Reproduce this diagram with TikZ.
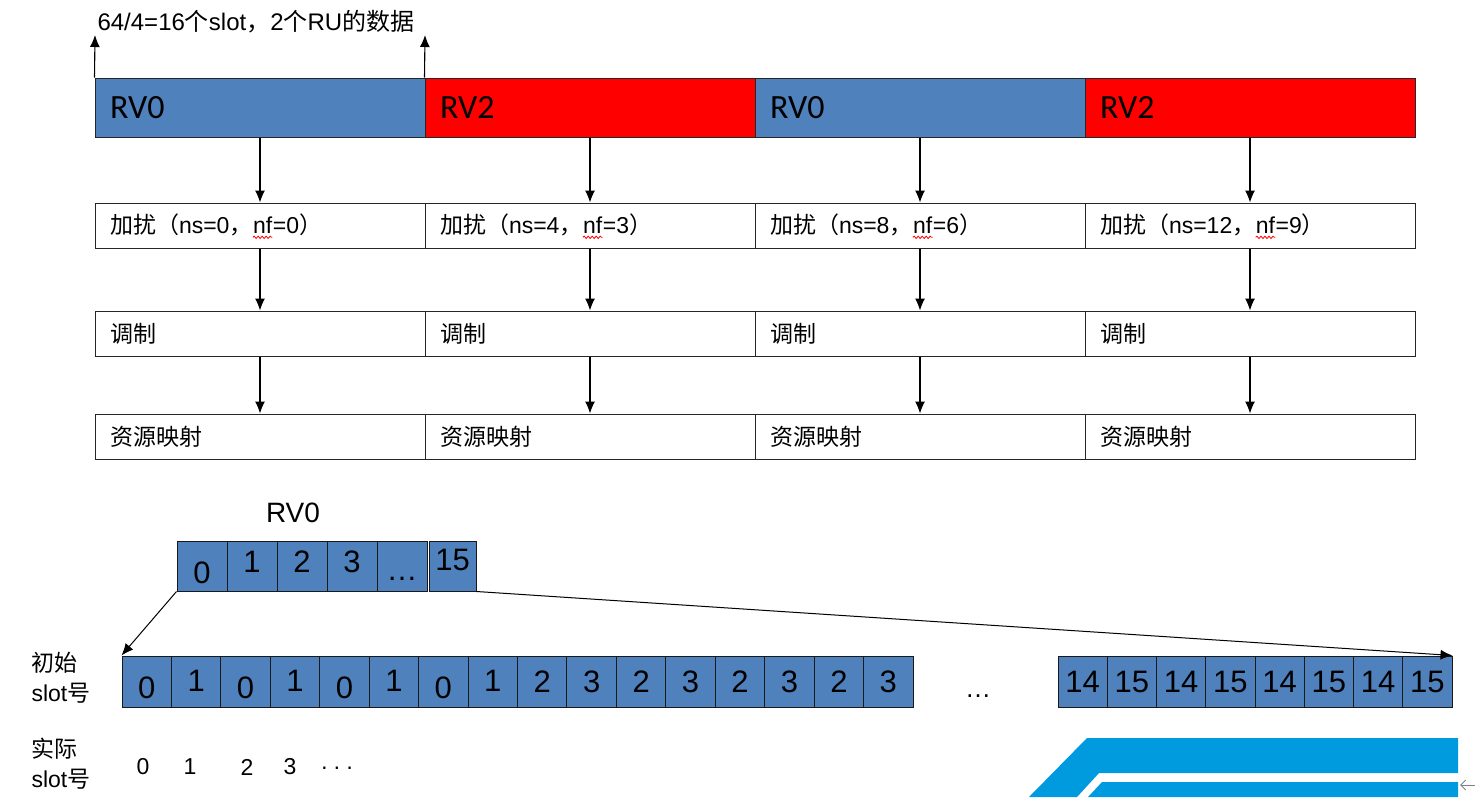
\documentclass[tikz,border=0pt]{standalone}
\usepackage{fontspec}
\setmainfont{Liberation Sans}
\newfontfamily\zh{Noto Sans CJK SC}
\newfontfamily\calib{Carlito}
\usetikzlibrary{arrows.meta,positioning,decorations.pathmorphing}
\definecolor{rvblue}{HTML}{4F81BD}
\definecolor{rvred}{HTML}{FF0000}
\definecolor{logo}{HTML}{009ADF}
\newcommand\spellwave[1]{\tikz[baseline=(w.base)]{\node[inner sep=0pt] (w) {#1};
  \draw[red,line width=0.8pt,decorate,decoration={snake,amplitude=1.2pt,segment length=4pt}] ([yshift=-3.5pt]w.base west) -- ([yshift=-3.5pt]w.base east);}}

\begin{document}
\begin{tikzpicture}[x=1pt,y=-1pt,
font=\fontsize{23}{27}\selectfont,
box/.style={draw=black!85,line width=1pt,minimum height=45pt,text width=300pt,inner xsep=15pt,inner ysep=0pt,align=left},
rv/.style={box,minimum height=59pt,font=\fontsize{34}{40}\selectfont\calib},
cell/.style={draw=black!90,line width=1pt,fill=rvblue,minimum width=49.4pt,minimum height=51pt,inner sep=0pt},
num/.style={font=\fontsize{31}{35}\selectfont},
arr/.style={-{Latex[length=12pt,width=10pt]},line width=1.1pt,draw=black}]
\useasboundingbox (0,0) rectangle (1475,809);
% processing chain, one column per redundancy version
\node[anchor=base west,font=\fontsize{24}{28}\selectfont] (note) at (94,30) {64/4=16{\zh 个}slot{\zh ，}2{\zh 个}RU{\zh 的数据}};
\node[rv,fill=rvblue] (v1) at (260,107.5) {RV0};
\node[rv,fill=rvred] (v2) at (590,107.5) {RV2};
\node[rv,fill=rvblue] (v3) at (920,107.5) {RV0};
\node[rv,fill=rvred] (v4) at (1250,107.5) {RV2};
\coordinate (t1) at (95,35); \coordinate (t2) at (425,35);
\draw[arr] (v1.north west) -- (t1); \draw[arr] (v2.north west) -- (t2);
\node[box] (s1) at (260,225.5) {{\zh 加扰（}ns=0{\zh ，}\spellwave{nf}=0{\zh ）}};
\node[box] (s2) at (590,225.5) {{\zh 加扰（}ns=4{\zh ，}\spellwave{nf}=3{\zh ）}};
\node[box] (s3) at (920,225.5) {{\zh 加扰（}ns=8{\zh ，}\spellwave{nf}=6{\zh ）}};
\node[box] (s4) at (1250,225.5) {{\zh 加扰（}ns=12{\zh ，}\spellwave{nf}=9{\zh ）}};
\foreach \i/\x in {1/260,2/590,3/920,4/1250}{
  \node[box,font=\fontsize{23}{27}\selectfont\zh] (m\i) at (\x,333.5) {调制};
  \node[box,font=\fontsize{23}{27}\selectfont\zh] (p\i) at (\x,436.5) {资源映射};
  \draw[arr] (v\i) -- (s\i); \draw[arr] (s\i) -- (m\i); \draw[arr] (m\i) -- (p\i);
}
% slot layout
\node[font=\fontsize{28}{32}\selectfont] (rvlab) at (293,513) {RV0};
\foreach \t/\x/\dy/\w [count=\i] in {0/202/-7/50,1/252/4/50,2/302/4/50,3/352/4/50,…/402/-13/50,15/452.5/6/47}
  \node[cell,minimum width=\w pt,minimum height=50pt,label={[num,yshift=\dy pt]center:\t}] (c\i) at (\x,566) {};
\foreach \t/\dy [count=\i] in {0/-6,1/1,0/-6,1/1,0/-6,1/1,0/-6,1/1,2/0,3/0,2/0,3/0,2/0,3/0,2/0,3/0}
  \node[cell,label={[num,yshift=\dy pt]center:\t}] (b\i) at ({122+49.44*(\i-0.5)},681.5) {};
\node[anchor=base,font=\fontsize{26}{30}\selectfont] (gap) at (978,697) {…};
\foreach \t [count=\i] in {14,15,14,15,14,15,14,15}
  \node[cell,minimum width=49.25pt,label={[num]center:\t}] (r\i) at ({1058+49.25*(\i-0.5)},681.5) {};
\draw[arr,line width=1pt] (c1.south west) -- (b1.north west);
\draw[arr,line width=1pt] (c6.south east) -- (r8.north east);
\node[anchor=west,align=left,font=\fontsize{23}{30}\selectfont] (init) at (28,678) {{\zh 初始}\\slot{\zh 号}};
\node[anchor=west,align=left,font=\fontsize{23}{30}\selectfont] (real) at (28,764) {{\zh 实际}\\slot{\zh 号}};
\node[font=\fontsize{23}{27}\selectfont] (n0) at (143,767) {0};
\node[font=\fontsize{23}{27}\selectfont] (n1) at (190,767) {1};
\node[font=\fontsize{23}{27}\selectfont] (n2) at (247,767) {2};
\node[font=\fontsize{23}{27}\selectfont] (n3) at (290,767) {3};
\node[font=\fontsize{23}{27}\selectfont] (n4) at (337,771) {·\hspace{5pt}·\hspace{5pt}·};
% corner band
\fill[logo] (1087,738) -- (1458,738) -- (1458,773) -- (1099,773) -- (1077,797) -- (1029,797) -- cycle;
\fill[logo] (1102,782) -- (1458,782) -- (1458,797) -- (1088,797) -- cycle;
\draw[gray,line width=1pt,-{Straight Barb[length=5pt,width=10pt]}] (1475,785) -- (1460,785);
\end{tikzpicture}
\end{document}
